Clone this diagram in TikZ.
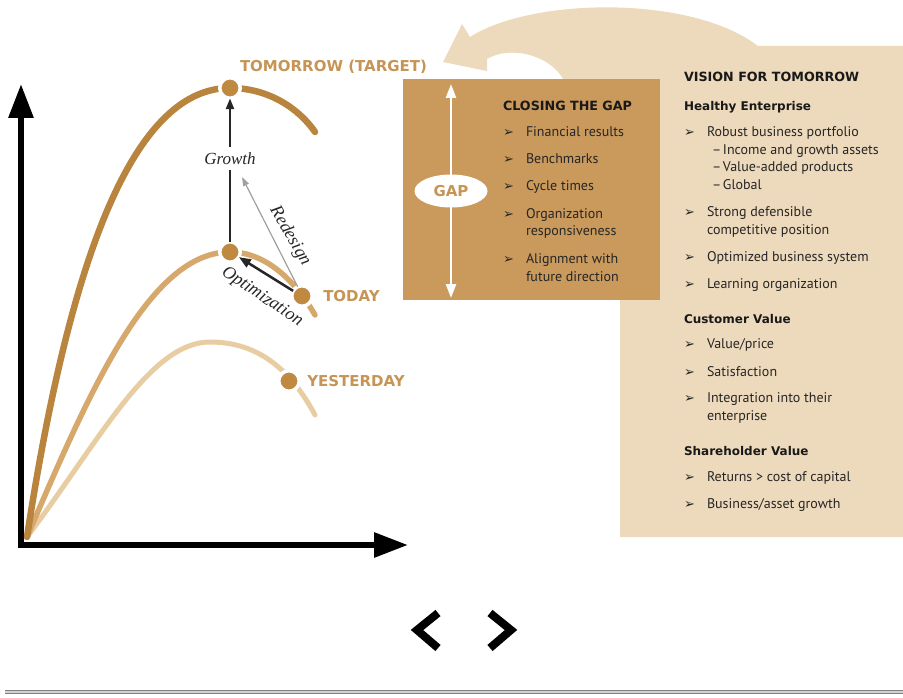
\documentclass[tikz,border=0pt]{standalone}
\usepackage{fontspec}
\usetikzlibrary{arrows.meta, positioning, shapes.geometric}

\newfontfamily\panelfont{PT Sans}
\newfontfamily\labelfont{DejaVu Sans}
\newfontfamily\symbolfont{DejaVu Sans}
\newfontfamily\remarkfont{Liberation Serif}

\definecolor{tomorrowcol}{RGB}{184,132,62}
\definecolor{todaycol}{RGB}{214,168,108}
\definecolor{yestcol}{RGB}{232,204,162}
\definecolor{dotcol}{RGB}{192,137,66}
\definecolor{labelcol}{RGB}{198,148,84}
\definecolor{gapcol}{RGB}{202,153,92}
\definecolor{panelcol}{RGB}{237,217,188}

\newcommand{\arrowbullet}{\makebox[23pt][l]{\symbolfont\fontsize{13}{13}\selectfont ➢}}
\newcommand{\subdash}{\hspace*{28pt}\makebox[11pt][l]{–}}

\begin{document}
\begin{tikzpicture}[
    x=1pt, y=-1pt,
    every node/.style={inner sep=0pt, outer sep=0pt},
    axis/.style={line width=6pt, line join=miter, {Triangle[length=34pt, width=24pt]}-{Triangle[length=34pt, width=24pt]}},
    curve/.style={line width=6pt, line cap=round},
    dot/.style={circle, fill=dotcol, draw=white, line width=3.5pt, minimum size=20.5pt},
    stage/.style={font=\labelfont\bfseries\fontsize{15}{15}\selectfont, text=labelcol},
    remark/.style={font=\remarkfont\itshape\fontsize{17}{17}\selectfont, text=black!85},
    heading/.style={font=\labelfont\bfseries\fontsize{12.7}{17}\selectfont, text=black!90, anchor=base west},
    subhead/.style={font=\labelfont\bfseries\fontsize{12}{17}\selectfont, text=black!90, anchor=base west},
    item/.style={font=\panelfont\fontsize{14}{17.5}\selectfont, text=black!85, anchor=base west, align=left},
    chevron/.style={line width=8pt, line join=miter}
]
   \useasboundingbox (0,0) rectangle (903,698);

   % Vision panel with the big arrow back to the target
   \fill[panelcol] (443,62) -- (462,24) -- (470,37)
      .. controls (530,-2) and (690,-6) .. (758,46) -- (903,46) -- (903,537)
      -- (620,537) -- (620,79) -- (563,79)
      .. controls (550,55) and (510,45) .. (487,59) -- (487,71) -- cycle;

   % Closing the gap box
   \node[fill=gapcol, minimum width=257pt, minimum height=221pt, anchor=north west] (gapbox) at (403,79) {};
   \coordinate (gaptop) at (451,84);
   \coordinate (gapbottom) at (451,298);
   \draw[white, line width=2.5pt, {Triangle[length=14pt, width=10pt]}-{Triangle[length=14pt, width=10pt]}] (gaptop) -- (gapbottom);
   \node[ellipse, fill=white, minimum width=73pt, minimum height=33pt,
         font=\labelfont\bfseries\fontsize{15}{15}\selectfont, text=labelcol] (gap) at (451,191) {GAP};

   % Axes
   \coordinate (ytip) at (21,84);
   \coordinate (corner) at (21,545);
   \coordinate (xtip) at (408,545);
   \draw[axis] (ytip) -- (corner) -- (xtip);

   % Curves
   \coordinate (origin) at (27,537);
   \draw[curve, yestcol, line width=5pt] (origin) .. controls (100,440) and (150,342) .. (210,342)
      .. controls (260,342) and (292,372) .. (315,415);
   \draw[curve, todaycol, line width=5.5pt] (origin) .. controls (90,390) and (150,252) .. (230,252)
      .. controls (265,252) and (295,280) .. (315,315);
   \draw[curve, tomorrowcol, line width=6.5pt] (origin) .. controls (68,270) and (130,88) .. (230,88)
      .. controls (270,88) and (300,110) .. (315,132);

   % Dots on the curves
   \node[dot] (tomorrowpeak) at (230,88) {};
   \node[dot] (todaypeak) at (230,252) {};
   \node[dot] (today) at (302,296) {};
   \node[dot] (yesterday) at (289,381) {};

   % Labels
   \node[stage, anchor=west] (tomorrowlabel) at (240,67) {TOMORROW (TARGET)};
   \node[stage, right=11pt of today] (todaylabel) {TODAY};
   \node[stage, right=8pt of yesterday] (yesterdaylabel) {YESTERDAY};

   % Moves from today
   \coordinate (redesigntip) at (242,177);
   \draw[gray!75, line width=1.2pt, -{Triangle[length=9pt, width=6pt]}] (today.115) -- (redesigntip);
   \draw[black!85, line width=2.5pt, -{Triangle[length=12pt, width=9pt]}] (today.150) -- (todaypeak.-30);
   \draw[black!85, line width=2.5pt, -{Triangle[length=11pt, width=8pt]}] (todaypeak) --
      node[remark, fill=white, pos=0.58, inner ysep=6pt] {Growth} (tomorrowpeak);
   \node[remark, font=\remarkfont\itshape\fontsize{18}{18}\selectfont, rotate=-60] (redesign) at (290,236) {Redesign};
   \node[remark, font=\remarkfont\itshape\fontsize{18}{18}\selectfont, rotate=-34] (optimization) at (262,297) {Optimization};

   % Closing the gap list
   \node[heading] (closing) at (503,111) {CLOSING THE GAP};
   \node[item] (financial) at (503,137) {\arrowbullet Financial results};
   \node[item] (benchmarks) at (503,164) {\arrowbullet Benchmarks};
   \node[item] (cycle) at (503,191) {\arrowbullet Cycle times};
   \node[item] (responsive) at (503,236) {\arrowbullet Organization\\\hspace*{23pt}responsiveness};
   \node[item] (alignment) at (503,281) {\arrowbullet Alignment with\\\hspace*{23pt}future direction};

   % Vision list
   \node[heading] (vision) at (684,82) {VISION FOR TOMORROW};
   \node[subhead] (healthy) at (684,111) {Healthy Enterprise};
   \node[item] (robust) at (684,189.5) {\arrowbullet Robust business portfolio\\\subdash Income and growth assets\\\subdash Value-added products\\\subdash Global};
   \node[item] (strong) at (684,234) {\arrowbullet Strong defensible\\\hspace*{23pt}competitive position};
   \node[item] (optimized) at (684,261) {\arrowbullet Optimized business system};
   \node[item] (learning) at (684,288) {\arrowbullet Learning organization};
   \node[subhead] (customer) at (684,323) {Customer Value};
   \node[item] (price) at (684,348) {\arrowbullet Value/price};
   \node[item] (satisfaction) at (684,376) {\arrowbullet Satisfaction};
   \node[item] (integration) at (684,420) {\arrowbullet Integration into their\\\hspace*{23pt}enterprise};
   \node[subhead] (shareholder) at (684,455) {Shareholder Value};
   \node[item] (returns) at (684,481) {\arrowbullet Returns > cost of capital};
   \node[item] (growth) at (684,508) {\arrowbullet Business/asset growth};

   % Page navigation
   \draw[chevron] (438,613) -- (417,630) -- (438,648);
   \draw[chevron] (490,613) -- (511,630) -- (490,648);
   \draw[draw=gray, double=gray!35, double distance=1.5pt, line width=1.5pt] (5,692) -- (903,692);
\end{tikzpicture}
\end{document}
